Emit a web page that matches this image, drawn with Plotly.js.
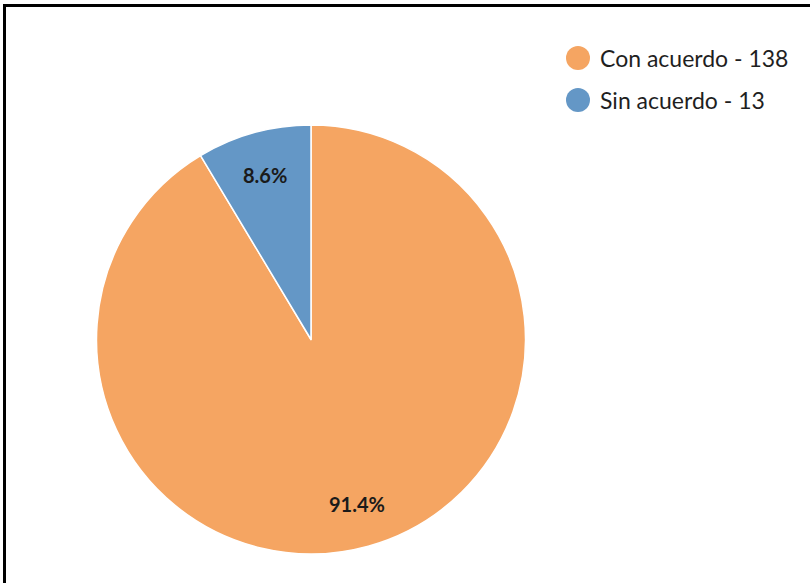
<!DOCTYPE html>
<html>
<head>
<meta charset="utf-8">
<script src="https://cdn.plot.ly/plotly-3.0.1.min.js"></script>
<style>
html,body{margin:0;padding:0;background:#fff;}
#chart{width:810px;height:583px;}
</style>
</head>
<body>
<div id="chart"></div>
<script>
const labels = ["Con acuerdo", "Sin acuerdo"];
const values = [138, 13];
const colors = ["#F5A562", "#6497C6"];

const W = 810, H = 583;
const pieLeft = 96, pieRight = 526, pieTop = 125, pieBottom = 554;
const cxPx = (pieLeft + pieRight) / 2, cyPx = (pieTop + pieBottom) / 2;
const R = Math.min(pieRight - pieLeft, pieBottom - pieTop) / 2;
const fontFam = "Lato, 'Open Sans', sans-serif";

const total = values.reduce((a, b) => a + b, 0);
const annotations = [];
let cum = 0;
values.forEach((v, i) => {
  const mid = (cum + v / 2) / total * 2 * Math.PI; // clockwise from top
  cum += v;
  const px = cxPx + 0.795 * R * Math.sin(mid);
  const py = cyPx - 0.795 * R * Math.cos(mid);
  annotations.push({
    x: px / W, y: 1 - py / H, xref: "paper", yref: "paper",
    text: (v / total * 100).toFixed(1) + "%", showarrow: false,
    font: {family: fontFam, size: 20, color: "#1a1a1a", weight: "bold"},
    xanchor: "center", yanchor: "middle"
  });
});

const shapes = [
  {type: "line", xref: "paper", yref: "paper", x0: 3/W, x1: 1, y0: 1 - 5.5/H, y1: 1 - 5.5/H, line: {color: "#000", width: 3}},
  {type: "line", xref: "paper", yref: "paper", x0: 4.5/W, x1: 4.5/W, y0: 0, y1: 1 - 4/H, line: {color: "#000", width: 3}}
];

const legX = 578, legY0 = 58, legDy = 42, legR = 12;
labels.forEach((lab, i) => {
  const y = legY0 + i * legDy;
  shapes.push({type: "circle", xref: "paper", yref: "paper",
    x0: (legX - legR)/W, x1: (legX + legR)/W, y0: 1 - (y + legR)/H, y1: 1 - (y - legR)/H,
    fillcolor: colors[i], line: {width: 0}});
  annotations.push({x: 598/W, y: 1 - y/H, xref: "paper", yref: "paper",
    text: lab + " - " + values[i], showarrow: false, xanchor: "left", yanchor: "middle",
    font: {family: fontFam, size: 23, color: "#1f1f1f"}});
});

const data = [{
  type: "pie", labels: labels, values: values, sort: false,
  direction: "clockwise", rotation: 0,
  marker: {colors: colors, line: {color: "#ffffff", width: 1.5}},
  textinfo: "none", hoverinfo: "label+value+percent", showlegend: false,
  domain: {x: [pieLeft/W, pieRight/W], y: [1 - pieBottom/H, 1 - pieTop/H]}
}];

const layout = {
  width: W, height: H, margin: {l: 0, r: 0, t: 0, b: 0},
  paper_bgcolor: "#fff", showlegend: false,
  shapes: shapes, annotations: annotations
};
Plotly.newPlot("chart", data, layout, {displayModeBar: false, staticPlot: true});
</script>
</body>
</html>
